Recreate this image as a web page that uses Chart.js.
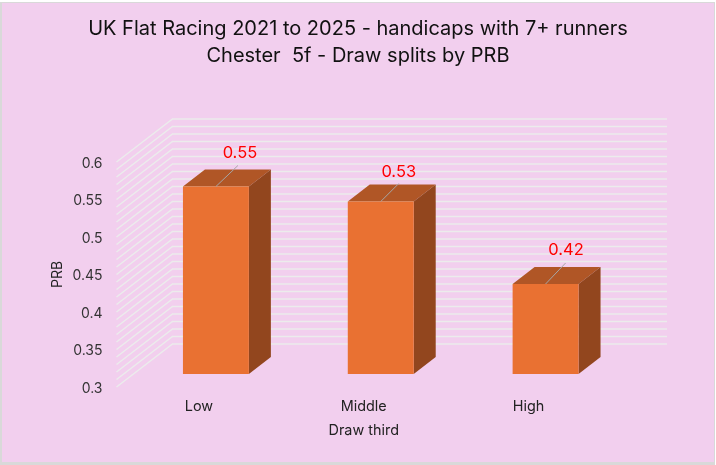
<!DOCTYPE html>
<html>
<head>
<meta charset="utf-8">
<style>
  html, body { margin: 0; padding: 0; background: #fff; }
  #wrap { width: 716px; height: 465px; }
  canvas { display: block; }
</style>
<script src="https://cdn.jsdelivr.net/npm/chart.js@4"></script>
</head>
<body>
<div id="wrap"><canvas id="chart" width="716" height="465"></canvas></div>
<script>
const titleLines = ['UK Flat Racing 2021 to 2025 - handicaps with 7+ runners', 'Chester  5f - Draw splits by PRB'];
const categories = ['Low', 'Middle', 'High'];
const prbValues = [0.55, 0.53, 0.42];
const valueLabels = ['0.55', '0.53', '0.42'];
const labelledTicks = ['0.3', '0.35', '0.4', '0.45', '0.5', '0.55', '0.6'];

const fontName = 'Inter, "Noto Sans", sans-serif';

// fake 3d: how far the bars and the back wall sit behind the axis plane
const barShift = { x: 17, y: -13 };
const barDepth = { x: 22, y: -17 };
const wallDepth = { x: 56, y: -43 };
// leader line end and label centre, relative to the middle of the bar's top edge
const labelOffsets = [
  { lineX: 22, lineY: -21, textX: 24, textY: -33.5 },
  { lineX: 18, lineY: -18, textX: 18, textY: -29.5 },
  { lineX: 20, lineY: -21, textX: 20.5, textY: -33.5 },
];

const poly = (ctx, pts, fill) => {
  ctx.beginPath();
  pts.forEach((p, i) => i ? ctx.lineTo(p[0], p[1]) : ctx.moveTo(p[0], p[1]));
  ctx.closePath();
  ctx.fillStyle = fill;
  ctx.fill();
};

const frame3d = {
  id: 'frame3d',
  afterLayout(chart) {
    // title is centred on the whole picture, not the padded box
    chart.titleBlock.left = 0;
    chart.titleBlock.right = chart.width;
    // tick text sits a little lower than canvas "middle"
    chart.scales.y.getLabelItems().forEach(item => { item.textOffset += 1.5; });
  },
  beforeDraw(chart) {
    const { ctx, width, height } = chart;
    ctx.save();
    ctx.fillStyle = '#ffffff';
    ctx.fillRect(0, 0, width, height);
    ctx.fillStyle = '#d9d9d9';
    ctx.fillRect(0, 2, width - 1, height - 2);
    ctx.fillStyle = '#f2cfee';
    ctx.fillRect(2, 3, width - 4, height - 6);
    ctx.restore();
  },
  beforeDatasetsDraw(chart) {
    const { ctx, chartArea: area, scales: { y } } = chart;
    // side wall and back wall lines, one per tick
    ctx.save();
    ctx.strokeStyle = '#ececec';
    ctx.lineWidth = 1.5;
    y.ticks.forEach(t => {
      const py = y.getPixelForValue(t.value);
      ctx.beginPath();
      ctx.moveTo(area.left, py);
      ctx.lineTo(area.left + wallDepth.x, py + wallDepth.y);
      ctx.lineTo(area.right + wallDepth.x, py + wallDepth.y);
      ctx.stroke();
    });
    ctx.restore();

    // sides of the bars, same shift as the fronts
    ctx.save();
    ctx.translate(barShift.x, barShift.y);
    chart.getDatasetMeta(0).data.forEach(bar => {
      const l = bar.x - bar.width / 2, r = bar.x + bar.width / 2;
      const dx = barDepth.x, dy = barDepth.y;
      poly(ctx, [[l, bar.y], [l + dx, bar.y + dy], [r + dx, bar.y + dy], [r, bar.y]], '#b05626');
      poly(ctx, [[r, bar.y], [r + dx, bar.y + dy], [r + dx, bar.base + dy], [r, bar.base]], '#92461e');
    });
  },
  afterDatasetsDraw(chart) {
    const { ctx } = chart;
    ctx.restore();
    ctx.save();
    chart.getDatasetMeta(0).data.forEach((bar, i) => {
      const x0 = bar.x + barShift.x, y0 = bar.y + barShift.y;
      const o = labelOffsets[i];
      ctx.strokeStyle = '#a6a6a6';
      ctx.lineWidth = 1;
      ctx.beginPath();
      ctx.moveTo(x0, y0);
      ctx.lineTo(x0 + o.lineX, y0 + o.lineY);
      ctx.stroke();
      ctx.fillStyle = '#ff0000';
      ctx.font = '16.5px ' + fontName;
      ctx.textAlign = 'center';
      ctx.textBaseline = 'middle';
      ctx.fillText(valueLabels[i], x0 + o.textX, y0 + o.textY);
    });
    ctx.restore();
  }
};

new Chart(document.getElementById('chart'), {
  type: 'bar',
  data: {
    labels: categories,
    datasets: [{
      label: 'PRB',
      data: prbValues,
      base: 0.3,
      backgroundColor: '#e97132',
      categoryPercentage: 0.4,
      barPercentage: 1
    }]
  },
  plugins: [frame3d],
  options: {
    responsive: false,
    animation: false,
    events: [],
    layout: { padding: { left: 49, right: 105, top: 0, bottom: 26 } },
    plugins: {
      legend: { display: false },
      tooltip: { enabled: false },
      title: {
        display: true,
        text: titleLines,
        color: '#111111',
        font: { family: fontName, size: 20, weight: 'normal', lineHeight: 26.5 / 20 },
        padding: { top: 16, bottom: 93 }
      }
    },
    scales: {
      x: {
        afterFit: s => { s.height = 52; },
        grid: { display: false, drawTicks: false },
        border: { display: false },
        ticks: { color: '#222222', padding: 11, font: { family: fontName, size: 14.4 } },
        title: { display: true, text: 'Draw third', color: '#222222', padding: 0, font: { family: fontName, size: 14.4 } }
      },
      y: {
        min: 0.3,
        max: 0.6,
        afterFit: s => { s.width = 67.5; },
        grid: { display: false, drawTicks: false },
        border: { display: false },
        ticks: {
          stepSize: 0.01,
          autoSkip: false,
          padding: 14,
          color: '#333333',
          font: { family: fontName, size: 14 },
          // only every fifth line carries a label
          callback: v => labelledTicks.find(t => Math.abs(Number(t) - v) < 1e-6) || ''
        },
        title: { display: true, text: 'PRB', color: '#222222', padding: 0, font: { family: fontName, size: 14 } }
      }
    }
  }
});
</script>
</body>
</html>
